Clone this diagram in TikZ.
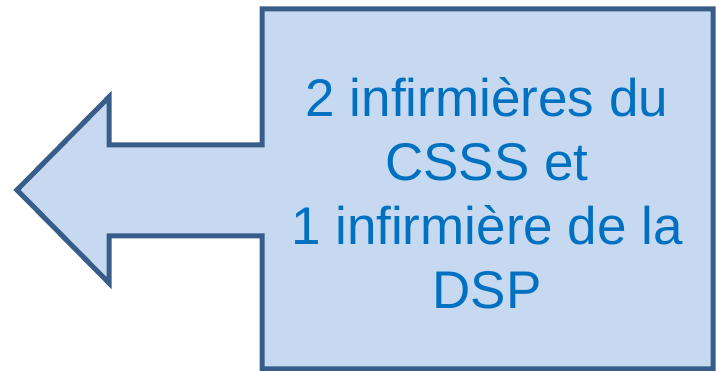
\documentclass[tikz,border=0pt]{standalone}
\usepackage{fontspec}
\setmainfont{Liberation Sans}
\definecolor{calloutfill}{HTML}{C6D9F0}
\definecolor{calloutdraw}{HTML}{385D8A}
\definecolor{callouttext}{HTML}{0070C0}
\tikzset{
  callout/.style={fill=calloutfill, draw=calloutdraw, line width=5pt, line join=miter},
  callouttxt/.style={text=callouttext, align=center, inner sep=0pt,
    font=\fontsize{53}{64}\selectfont}
}
\begin{document}
\begin{tikzpicture}[x=1pt,y=-1pt]
\useasboundingbox (0,0) rectangle (716,371);
\draw[callout] (262,9) -- (713,9) -- (713,369) -- (262,369) -- (262,236)
  -- (109,236) -- (109,283) -- (17,190) -- (109,97) -- (109,145)
  -- (262,145) -- cycle;
\node[callouttxt] (label) at (487,193) {2 infirmières du\\CSSS et\\1 infirmière de la\\DSP};
\end{tikzpicture}
\end{document}
